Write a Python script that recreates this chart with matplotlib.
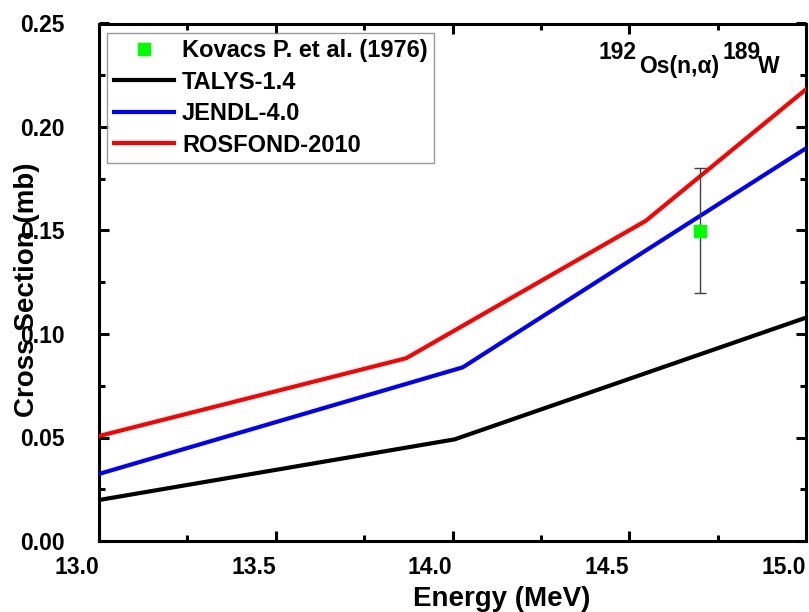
import matplotlib
matplotlib.use("Agg")
import matplotlib.pyplot as plt
from matplotlib.ticker import MultipleLocator, FormatStrFormatter

# Calculated excitation functions for 192Os(n,alpha)189W
talys_e = [13.0, 14.006, 15.0]
talys_xs = [0.0198, 0.0491, 0.1079]

jendl_e = [13.0, 14.029, 15.0]
jendl_xs = [0.0324, 0.0839, 0.1897]

rosfond_e = [13.0, 13.869, 14.547, 15.0]
rosfond_xs = [0.0507, 0.0883, 0.1547, 0.2182]

# Measured point
exp_e = [14.70]
exp_xs = [0.150]
exp_err = [0.030]

x_ticks = [13.0, 13.5, 14.0, 14.5, 15.0]
x_tick_labels = ["13.0", "13.5", "14.0", "14.5", "15.0"]

FONT = "Liberation Sans"
plt.rcParams["font.family"] = [FONT, "DejaVu Sans"]
plt.rcParams["font.weight"] = "bold"

fig = plt.figure(figsize=(8.09, 6.12), dpi=100)
W, H = 809, 612
ax = fig.add_axes([99 / W, (H - 541) / H, 707 / W, 517.5 / H])

ax.plot(talys_e, talys_xs, color="black", lw=3.0, label="TALYS-1.4", zorder=3)
ax.plot(jendl_e, jendl_xs, color="#0000ff", lw=3.0, label="JENDL-4.0", zorder=3)
ax.plot(rosfond_e, rosfond_xs, color="#ff0000", lw=3.0, label="ROSFOND-2010", zorder=3)
ax.errorbar(exp_e, exp_xs, yerr=exp_err, fmt="none", ecolor="#404040",
            elinewidth=1.0, capsize=4, capthick=1.0, zorder=5)
ax.plot(exp_e, exp_xs, "s", color="#00ff00", ms=8, mec="#00ff00",
        label="Kovacs P. et al. (1976)", zorder=6)

ax.set_xlim(13.0, 15.0)
ax.set_ylim(0.0, 0.25)
ax.set_xticks(x_ticks)
ax.set_xticklabels(x_tick_labels, ha="right")
ax.xaxis.set_minor_locator(MultipleLocator(0.25))
ax.yaxis.set_major_locator(MultipleLocator(0.05))
ax.yaxis.set_minor_locator(MultipleLocator(0.025))
ax.yaxis.set_major_formatter(FormatStrFormatter("%.2f"))

for s in ax.spines.values():
    s.set_linewidth(2.2)
ax.tick_params(which="both", direction="in", top=True, right=True, width=2.2)
ax.tick_params(which="major", length=7)
ax.tick_params(which="minor", length=4)
ax.tick_params(axis="x", which="major", labelsize=16.5, pad=11)
ax.tick_params(axis="y", which="major", labelsize=16.5, pad=25)
for lab in ax.get_xticklabels() + ax.get_yticklabels():
    lab.set_fontweight("bold")

ax.set_xlabel("Energy (MeV)", fontsize=20, fontweight="bold", va="baseline")
ax.xaxis.set_label_coords((502 - 99) / 707, (541 - 606) / 517.5)
ax.set_ylabel("Cross Section (mb)", fontsize=20, fontweight="bold", va="center")
ax.yaxis.set_label_coords((27 - 99) / 707, 0.485)

handles, labels = ax.get_legend_handles_labels()
order = [3, 0, 1, 2]
leg = ax.legend([handles[i] for i in order], [labels[i] for i in order],
                loc="upper left",
                bbox_to_anchor=(107 / W, 1 - 32.5 / H),
                bbox_transform=fig.transFigure,
                prop={"family": FONT, "weight": "bold", "size": 17},
                frameon=True, fancybox=False, borderaxespad=0,
                borderpad=0.28, handlelength=2.55, handletextpad=0.35,
                labelspacing=0.36)
leg.get_frame().set_edgecolor("#808080")
leg.get_frame().set_linewidth(1.0)

# Reaction label with nuclide mass numbers raised above the symbols
parts = [("192", 598, 59.3), ("Os(n,\u03b1)", 639, 72.7),
         ("189", 722, 59.3), ("W", 758, 72.7)]
for txt, px, py in parts:
    fig.text(px / W, 1 - py / H, txt, fontsize=16.5, fontweight="bold",
             family=FONT, ha="left", va="baseline")

fig.savefig("out.png", dpi=100)
